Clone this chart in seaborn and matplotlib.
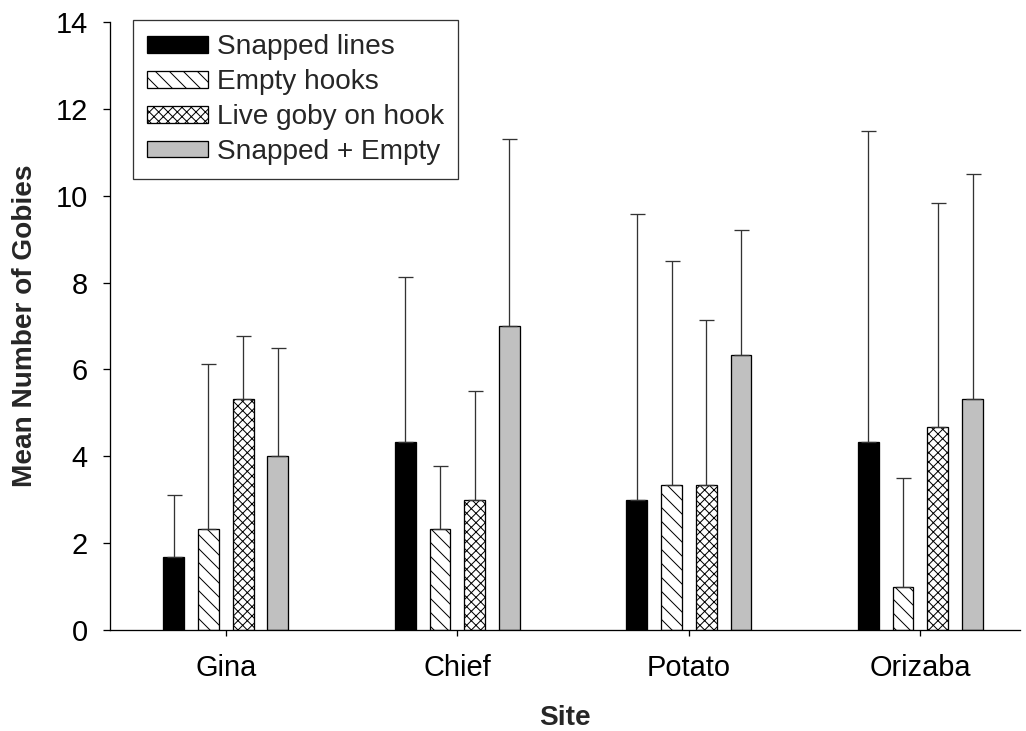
import matplotlib
matplotlib.use("Agg")
import matplotlib.pyplot as plt
import seaborn as sns
import pandas as pd
import numpy as np

sites = ["Gina", "Chief", "Potato", "Orizaba"]
series = ["Snapped lines", "Empty hooks", "Live goby on hook", "Snapped + Empty"]
snapped = [1.67, 4.33, 3.0, 4.33]
empty = [2.33, 2.33, 3.33, 1.0]
live = [5.33, 3.0, 3.33, 4.67]
snapped_empty = [4.0, 7.0, 6.33, 5.33]
snapped_err = [1.43, 3.80, 6.57, 7.17]
empty_err = [3.80, 1.44, 5.17, 2.50]
live_err = [1.44, 2.50, 3.80, 5.16]
snapped_empty_err = [2.50, 4.30, 2.87, 5.17]

means = [snapped, empty, live, snapped_empty]
errs = [snapped_err, empty_err, live_err, snapped_empty_err]

rows = []
for s, m in zip(series, means):
    for site, v in zip(sites, m):
        rows.append({"Site": site, "Series": s, "Value": v})
df = pd.DataFrame(rows)

DPI = 84
def px(v):
    return v * 72.0 / DPI

sns.set_style("ticks")
plt.rcParams["font.family"] = ["Liberation Sans", "DejaVu Sans"]
plt.rcParams["hatch.linewidth"] = px(1.0)

fig = plt.figure(figsize=(1026 / DPI, 731 / DPI), dpi=DPI)
ax = fig.add_axes([110 / 1026, 101 / 731, 910 / 1026, 608 / 731])

colors = ["black", "white", "white", "#c0c0c0"]
hatches = ["", "\\\\", "xxx", ""]
sns.barplot(data=df, x="Site", y="Value", hue="Series", order=sites, hue_order=series,
            palette=colors, width=0.6, gap=0.4, edgecolor="black", linewidth=px(1.3),
            errorbar=None, ax=ax, saturation=1)

bar_containers = list(ax.containers)
for i, cont in enumerate(bar_containers):
    for j, p in enumerate(cont.patches):
        p.set_hatch(hatches[i])
        p.set_edgecolor("black")
        x = p.get_x() + p.get_width() / 2
        h = p.get_height()
        ax.errorbar(x, h, yerr=[[0], [errs[i][j]]], fmt="none", ecolor="#333333",
                    elinewidth=px(1.3), capsize=px(7.5), capthick=px(1.3), zorder=1)

ax.set_ylim(0, 14)
ax.set_xlim(-0.5, 3.43)
ax.set_yticks(range(0, 15, 2))
ax.tick_params(axis="y", labelsize=px(29), direction="out", length=px(7), width=px(1.3),
               colors="black", pad=px(15))
ax.tick_params(axis="x", labelsize=px(29), direction="out", length=px(6), width=px(1.3),
               colors="black", pad=px(18))
ax.set_xlabel("Site", fontsize=px(28), fontweight="bold", labelpad=px(23))
ax.set_ylabel("Mean Number of Gobies", fontsize=px(28), fontweight="bold", labelpad=px(18))
sns.despine(ax=ax)
for sp in ["left", "bottom"]:
    ax.spines[sp].set_color("black")
    ax.spines[sp].set_linewidth(px(1.3))

handles, labels = ax.get_legend_handles_labels()
for h, hs in zip(handles, hatches):
    h.set_hatch(hs)
    h.set_edgecolor("black")
leg = ax.legend(handles, labels, loc="upper left", bbox_to_anchor=(23 / 910, 1.003), fontsize=px(28),
                frameon=True, fancybox=False, edgecolor="black", handlelength=2.18,
                handleheight=0.54, labelspacing=0.32, borderpad=0.5, handletextpad=0.32,
                borderaxespad=0)
leg.get_frame().set_linewidth(px(1.3))
leg.set_title(None)

fig.savefig("out.png", dpi=DPI)
